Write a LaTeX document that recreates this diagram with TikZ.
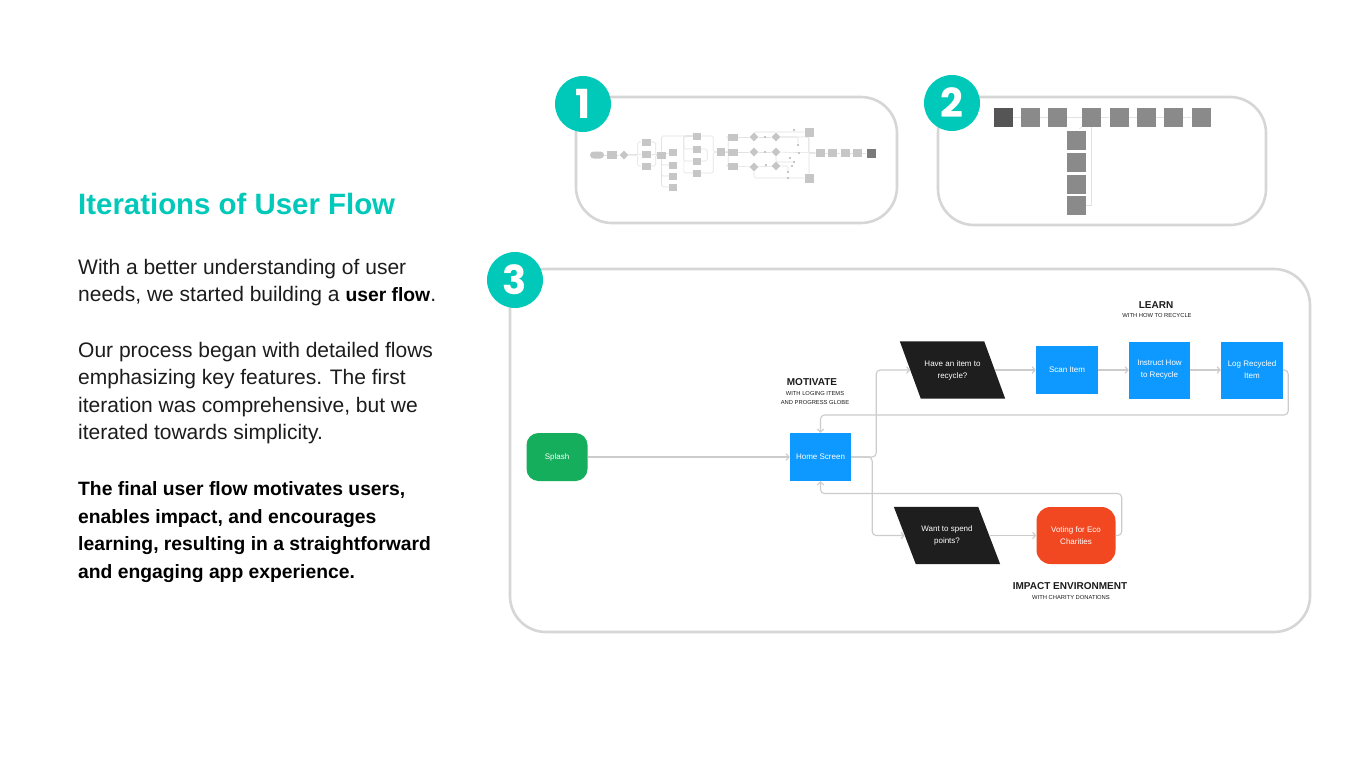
\documentclass[tikz,border=0pt]{standalone}
\usepackage{fontspec}
\setmainfont{Liberation Sans}
\newfontfamily\badgefont{Poppins}
\usetikzlibrary{arrows.meta,shapes.geometric,backgrounds}
\definecolor{teal1}{HTML}{00C9BA}
\definecolor{lgray}{HTML}{CCCCCC}
\definecolor{pgray}{HTML}{D6D6D6}
\definecolor{fblue}{HTML}{0D99FF}
\definecolor{fgreen}{HTML}{14AE5C}
\definecolor{fred}{HTML}{F24822}
\definecolor{fblack}{HTML}{1E1E1E}
\definecolor{txt}{HTML}{1C1C1C}
\definecolor{mini}{HTML}{C6C6C6}
\definecolor{minid}{HTML}{7A7A7A}
\definecolor{miniline}{HTML}{E2E2E2}
\definecolor{p2dark}{HTML}{555555}
\definecolor{p2gray}{HTML}{8A8A8A}
\begin{document}
\begin{tikzpicture}[x=1pt,y=-1pt,
  body/.style={anchor=base west, inner sep=0pt, font=\fontsize{21}{25}\selectfont, text=txt},
  bbody/.style={anchor=base west, inner sep=0pt, font=\fontsize{19.3}{25}\selectfont\bfseries, text=black},
  panel/.style={draw=pgray, line width=2.6pt, rounded corners=36pt},
  badge/.style={circle, fill=teal1, minimum size=56pt, inner sep=0pt, text=white, font=\fontsize{40}{40}\badgefont\bfseries},
  flowbox/.style={inner sep=0pt, align=center, text=white, font=\fontsize{8}{12}\selectfont},
  para/.style={flowbox, minimum width=84pt, minimum height=57pt},
  head/.style={inner sep=0pt, text=txt, font=\fontsize{10}{12}\selectfont\bfseries},
  sub/.style={inner sep=0pt, text=txt, font=\fontsize{5.8}{9}\selectfont, align=center},
  conn/.style={draw=lgray, line width=1.1pt, rounded corners=4pt, -{Straight Barb[length=3pt,width=6.5pt]}},
  mbox/.style={fill=mini, inner sep=0pt, minimum width=9pt, minimum height=7pt},
  mdia/.style={diamond, fill=mini, inner sep=0pt, minimum width=9pt, minimum height=9pt},
  mtiny/.style={fill=mini, inner sep=0pt, minimum size=2.5pt},
  mline/.style={draw=miniline, line width=0.6pt, rounded corners=1.5pt},
  pbox/.style={fill=p2gray, inner sep=0pt, minimum width=19pt, minimum height=19pt}
]
\useasboundingbox (0,0) rectangle (1366,768);
\begin{scope}[on background layer]
  \fill[white] (0,0) rectangle (1366,768);
\end{scope}

% ---------- left text ----------
\node[anchor=base west, inner sep=0pt, font=\fontsize{29.4}{34}\selectfont\bfseries, text=teal1] (title) at (78,214) {Iterations of User Flow};
\node[body] (t1) at (78,274) {With a better understanding of user};
\node[body] (t2) at (78,301.5) {needs, we started building a {\fontsize{19.3}{25}\selectfont\bfseries\color{black}user flow}.};
\node[body] (t3) at (78,357) {Our process began with detailed flows};
\node[body] (t4) at (78,384.6) {emphasizing key features. The first};
\node[body] (t5) at (78,412.2) {iteration was comprehensive, but we};
\node[body] (t6) at (78,439.8) {iterated towards simplicity.};
\node[bbody] (t7) at (78,495.5) {The final user flow motivates users,};
\node[bbody] (t8) at (78,523.1) {enables impact, and encourages};
\node[bbody] (t9) at (78,550.7) {learning, resulting in a straightforward};
\node[bbody] (t10) at (78,578.3) {and engaging app experience.};

% ---------- panels ----------
\draw[panel] (576,97) rectangle (897,223);
\draw[panel] (938,97) rectangle (1266,225);
\draw[panel] (510,269) rectangle (1310,632);

\node[badge] (b1) at (583,104) {1};
\node[badge] (b2) at (952,103) {2};
\node[badge] (b3) at (515,280) {3};

% ---------- panel 1 : first iteration (miniature) ----------
\node[mbox, rounded corners=3.5pt, minimum width=14pt] (a1) at (597,155) {};
\node[mbox, minimum width=10pt, minimum height=8pt] (a2) at (612,155) {};
\node[mdia] (a3) at (624,155) {};
\node[mbox] (bA) at (646,142) {};
\node[mbox] (bB) at (646,154) {};
\node[mbox] (bC) at (646,166) {};
\node[mbox] (c1) at (661.5,155) {};
\node[mbox, minimum width=8pt] (dA) at (673,152) {};
\node[mbox, minimum width=8pt] (dB) at (673,165) {};
\node[mbox, minimum width=8pt] (dC) at (673,176) {};
\node[mbox, minimum width=8pt] (dD) at (673,187) {};
\node[mbox, minimum width=8pt] (eA) at (697,136) {};
\node[mbox, minimum width=8pt] (eB) at (697,149) {};
\node[mbox, minimum width=8pt] (eC) at (697,161) {};
\node[mbox, minimum width=8pt] (eD) at (697,173) {};
\node[mbox, minimum width=8pt, minimum height=8pt] (f1) at (721,152) {};
\node[mbox, minimum width=10pt] (gA) at (733,137) {};
\node[mbox, minimum width=10pt] (gB) at (733,152) {};
\node[mbox, minimum width=10pt] (gC) at (733,166) {};
\node[mdia] (hA) at (754,137) {};
\node[mdia] (hB) at (754,152) {};
\node[mdia] (hC) at (754,167) {};
\node[mtiny] (iA) at (765,137) {};
\node[mtiny] (iB) at (765,152) {};
\node[mtiny] (iC) at (766,165) {};
\node[mdia] (jA) at (776,137) {};
\node[mdia] (jB) at (776,152) {};
\node[mdia] (jC) at (776,166) {};
\node[mtiny] (kA) at (794,130) {};
\node[mtiny] (kB) at (798,145) {};
\node[mtiny] (kC) at (799,153) {};
\node[mtiny] (kD) at (790,158) {};
\node[mtiny] (kE) at (794,162) {};
\node[mtiny] (kF) at (792,166) {};
\node[mtiny] (kG) at (788,172) {};
\node[mtiny] (kH) at (788,178) {};
\node[mbox, minimum height=9pt] (lA) at (809,132) {};
\node[mbox, minimum height=9pt] (lB) at (809,178) {};
\node[mbox, minimum height=8pt] (mA) at (820,153) {};
\node[mbox, minimum height=8pt] (mB) at (832.5,153) {};
\node[mbox, minimum height=8pt] (mC) at (845,153) {};
\node[mbox, minimum height=8pt] (mD) at (857.5,153) {};
\node[mbox, minimum height=9pt, fill=minid] (mE) at (871,153) {};

\begin{scope}[on background layer]
  \draw[mline] (a1) -- (a2);
  \draw[mline] (a2) -- (a3);
  \draw[mline] (a3.east) -- ++(9,0) |- (bA.west);
  \draw[mline] (a3.east) -- ++(9,0) |- (bC.west);
  \draw[mline] (a3) -- (bB);
  \draw[mline] (bA.east) -- ++(5,0) |- (c1.west);
  \draw[mline] (bC.east) -- ++(5,0) |- (c1.west);
  \draw[mline] (bB) -- (c1);
  \draw[mline] (c1) -- (dA);
  \draw[mline] (c1.south) |- (dB.west);
  \draw[mline] (c1.south) |- (dC.west);
  \draw[mline] (c1.south) |- (dD.west);
  \draw[mline] (c1.north) |- (eA.west);
  \draw[mline] (eA.west) -- ++(-9,0) |- (eB.west);
  \draw[mline] (eA.west) -- ++(-9,0) |- (eC.west);
  \draw[mline] (eA.west) -- ++(-9,0) |- (eD.west);
  \draw[mline] (eA.east) -- ++(12,0) |- (f1.west);
  \draw[mline] (eB.east) -- ++(6,0) |- (eC.east);
  \draw[mline] (eD.east) -- ++(12,0) |- (f1.west);
  \draw[mline] (f1.east) -- ++(3,0) |- (gA.west);
  \draw[mline] (f1.east) -- ++(3,0) |- (gC.west);
  \draw[mline] (f1) -- (gB);
  \draw[mline] (gA) -- (hA);
  \draw[mline] (gB) -- (hB);
  \draw[mline] (gC) -- (hC);
  \draw[mline] (hA) -- (jA);
  \draw[mline] (hB) -- (jB);
  \draw[mline] (hC) -- (jC);
  \draw[mline] (hA.north) |- (lA.west);
  \draw[mline] (hC.south) |- (lB.west);
  \draw[mline] (jA.east) -| (kB.north);
  \draw[mline] (jB) -- (mA);
  \draw[mline] (jB.south) |- (kE.west);
  \draw[mline] (jC.east) -| (kG.north);
  \draw[mline] (jA.east) -- ++(28,0) |- (mA.west);
  \draw[mline] (lA.south) |- (mA.west);
  \draw[mline] (lB.north) |- (mA.west);
  \draw[mline] (mA) -- (mB);
  \draw[mline] (mB) -- (mC);
  \draw[mline] (mC) -- (mD);
  \draw[mline] (mD) -- (mE);
\end{scope}

% ---------- panel 2 : second iteration (miniature) ----------
\node[pbox, fill=p2dark] (p1) at (1003.5,117.5) {};
\node[pbox] (p2) at (1030.5,117.5) {};
\node[pbox] (p3) at (1057.5,117.5) {};
\node[pbox] (p4) at (1091.5,117.5) {};
\node[pbox] (p5) at (1119,117.5) {};
\node[pbox] (p6) at (1146.5,117.5) {};
\node[pbox] (p7) at (1173.5,117.5) {};
\node[pbox] (p8) at (1201,117.5) {};
\node[pbox] (v1) at (1076.5,140.5) {};
\node[pbox] (v2) at (1076.5,162) {};
\node[pbox] (v3) at (1076.5,184) {};
\node[pbox] (v4) at (1076.5,205.5) {};
\begin{scope}[on background layer]
  \draw[mline] (p1) -- (p2);
  \draw[mline] (p2) -- (p3);
  \draw[mline] (p3) -- (p4);
  \draw[mline] (p4) -- (p5);
  \draw[mline] (p5) -- (p6);
  \draw[mline] (p6) -- (p7);
  \draw[mline] (p7) -- (p8);
  \draw[mline, rounded corners=0pt] (p4.south) |- (v4.east);
  \draw[mline, dashed] (p4.south west) -- (v1.north);
\end{scope}

% ---------- panel 3 : final user flow ----------
\node[flowbox, fill=fgreen, rounded corners=12pt, minimum width=61pt, minimum height=48pt] (splash) at (557,457) {Splash};
\node[flowbox, fill=fblue, minimum width=61pt, minimum height=48pt] (home) at (820.5,457) {Home Screen};
\node[para] (have) at (952.5,370) {Have an item to\\recycle?};
\node[flowbox, fill=fblue, minimum width=62pt, minimum height=48pt] (scan) at (1067,370) {Scan Item};
\node[flowbox, fill=fblue, minimum width=61pt, minimum height=57pt] (instr) at (1159.5,370) {Instruct How\\to Recycle};
\node[flowbox, fill=fblue, minimum width=62pt, minimum height=57pt] (logi) at (1252,370) {Log Recycled\\Item};
\node[para] (spend) at (947,535.5) {Want to spend\\points?};
\node[flowbox, fill=fred, rounded corners=14pt, minimum width=79pt, minimum height=57pt] (vote) at (1076,535.5) {Voting for Eco\\Charities};

\begin{scope}[on background layer]
  \fill[fblack] ([xshift=-10.5pt]have.north west) -- ([xshift=-10.5pt]have.north east)
     -- ([xshift=10.5pt]have.south east) -- ([xshift=10.5pt]have.south west) -- cycle;
  \fill[fblack] ([xshift=-11pt]spend.north west) -- ([xshift=-11pt]spend.north east)
     -- ([xshift=11pt]spend.south east) -- ([xshift=11pt]spend.south west) -- cycle;
\end{scope}

\node[head] (learn) at (1156,305) {LEARN};
\node[sub] (learnsub) at (1157,316) {WITH HOW TO RECYCLE};
\node[head] (motiv) at (812,382) {MOTIVATE};
\node[sub] (motivsub) at (815,398) {WITH LOGING ITEMS\\AND PROGRESS GLOBE};
\node[head] (impact) at (1070,586) {IMPACT ENVIRONMENT};
\node[sub] (impactsub) at (1071,597) {WITH CHARITY DONATIONS};

\draw[conn] (splash) -- (home);
\draw[conn] (home.east) -- ++(25,0) |- (have.west);
\draw[conn] (home.east) -- ++(21,0) |- (spend.west);
\draw[conn] (have.east) -- (scan.west);
\draw[conn] (scan) -- (instr);
\draw[conn] (instr) -- (logi);
\draw[conn] (logi.east) -- ++(5,0) -- ++(0,45) -| (home.north);
\draw[conn] (spend.east) -- (vote.west);
\draw[conn] (vote.east) -- ++(6,0) -- ++(0,-42) -| (home.south);
\end{tikzpicture}
\end{document}
